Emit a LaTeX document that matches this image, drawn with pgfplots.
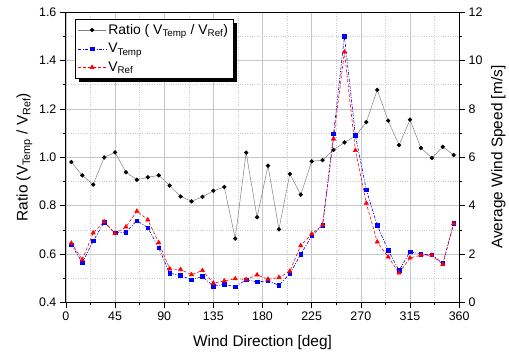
\documentclass[border=0pt]{standalone}
\usepackage{fontspec}
\setmainfont{Liberation Sans}
\usepackage{pgfplots}
\usepackage{pgfplotstable}
\pgfplotsset{compat=1.18}
\usetikzlibrary{shadows}

% keeps the legend shadow from being repeated on the legend's sample lines
\makeatletter
\tikzset{no preactions/.code={\let\tikz@preactions\pgfutil@empty}}
\makeatother

% wind direction [deg], ratio V_Temp/V_Ref, V_Temp [m/s], V_Ref [m/s]
\pgfplotstableread{
dir ratio vtemp vref
5   0.980 2.39 2.45
15  0.925 1.64 1.77
25  0.887 2.54 2.87
35  0.999 3.31 3.34
45  1.020 2.87 2.85
55  0.938 2.91 3.12
65  0.907 3.38 3.77
75  0.917 3.09 3.41
85  0.925 2.25 2.47
95  0.883 1.21 1.39
105 0.838 1.11 1.36
115 0.818 0.94 1.15
125 0.836 1.07 1.32
135 0.861 0.67 0.80
145 0.877 0.75 0.89
155 0.664 0.65 0.98
165 1.019 0.94 0.95
175 0.752 0.85 1.14
185 0.965 0.89 0.96
195 0.702 0.71 1.03
205 0.931 1.18 1.29
215 0.845 1.99 2.35
225 0.983 2.75 2.83
235 0.988 3.19 3.20
245 1.030 6.96 6.76
255 1.061 11.00 10.35
265 1.087 6.90 6.28
275 1.145 4.66 4.10
285 1.278 3.18 2.50
295 1.151 2.16 1.88
305 1.050 1.32 1.22
315 1.155 2.10 1.84
325 1.038 1.99 1.95
335 0.997 1.97 1.95
345 1.043 1.61 1.57
355 1.009 3.26 3.26
}\winddata

\pgfplotsset{
  common/.style={
    width=394bp, height=291bp, scale only axis,
    xmin=0, xmax=360,
    xtick={0,45,...,360},
    minor x tick num=1,
    tick align=outside,
    major tick length=6bp, minor tick length=3bp,
    tick style={black, line width=0.6pt},
    /pgf/number format/assume math mode=true,
    ticklabel style={font=\fontsize{12.5}{14}\selectfont},
    label style={font=\fontsize{15.5}{18}\selectfont},
    axis line style={line width=0.8pt},
  },
  ratiostyle/.style={color=gray, draw=gray, line width=0.5pt, mark=*, mark size=1.9bp,
    mark options={fill=black, draw=black, solid}},
  tempstyle/.style={color=blue, draw=blue, line width=0.6pt,
    dash pattern=on 3pt off 1.5pt on 1pt off 1.5pt,
    mark=square*, mark size=1.8bp, mark options={fill=blue, draw=blue, solid}},
  refstyle/.style={color=red, draw=red, line width=0.6pt, dash pattern=on 3pt off 2pt,
    mark=triangle*, mark size=2.4bp, mark options={fill=red, draw=red, solid}},
}

\begin{document}
\begin{tikzpicture}
% left axis: velocity ratio
\begin{axis}[
  common, name=ax,
  ymin=0.4, ymax=1.6,
  ytick={0.4,0.6,0.8,1.0,1.2,1.4,1.6},
  minor y tick num=1,
  tick pos=left,
  grid=both,
  major grid style={gray!45, line width=0.5pt},
  minor grid style={gray!40, dotted, line width=0.5pt},
  yticklabel style={/pgf/number format/.cd, fixed, fixed zerofill, precision=1},
  xlabel={Wind Direction [deg]},
  xlabel style={yshift=-8bp},
  ylabel={Ratio (V\textsubscript{Temp} / V\textsubscript{Ref})},
]
\addplot[ratiostyle] table[x=dir, y=ratio]{\winddata};
\end{axis}
% right axis: wind speed
\begin{axis}[
  common,
  ymin=0, ymax=12,
  ytick={0,2,...,12},
  minor y tick num=1,
  axis y line*=right,
  axis x line=none,
  ylabel={Average Wind Speed [m/s]},
  ylabel style={yshift=-2bp},
  legend cell align=left,
  legend style={at={(0.022,0.976)}, anchor=north west, draw=black, fill=white,
    line width=0.6pt,
    font=\fontsize{14}{16}\selectfont,
    drop shadow={shadow xshift=4bp, shadow yshift=-4bp, fill=black, opacity=1},
    row sep=3.5bp, inner sep=3bp},
  legend image code/.code={
    \draw[no preactions, mark repeat=2, mark phase=2, #1]
      plot coordinates {(0bp,0bp) (14bp,0bp) (28bp,0bp)};
  },
]
\addlegendimage{ratiostyle}
\addlegendentry{Ratio ( V\textsubscript{Temp} / V\textsubscript{Ref})}
\addplot[tempstyle] table[x=dir, y=vtemp]{\winddata};
\addlegendentry{V\textsubscript{Temp}}
\addplot[refstyle] table[x=dir, y=vref]{\winddata};
\addlegendentry{V\textsubscript{Ref}}
\end{axis}
\path ([xshift=-66bp, yshift=-50bp]ax.south west) rectangle ([xshift=49bp, yshift=12bp]ax.north east);
\end{tikzpicture}
\end{document}
